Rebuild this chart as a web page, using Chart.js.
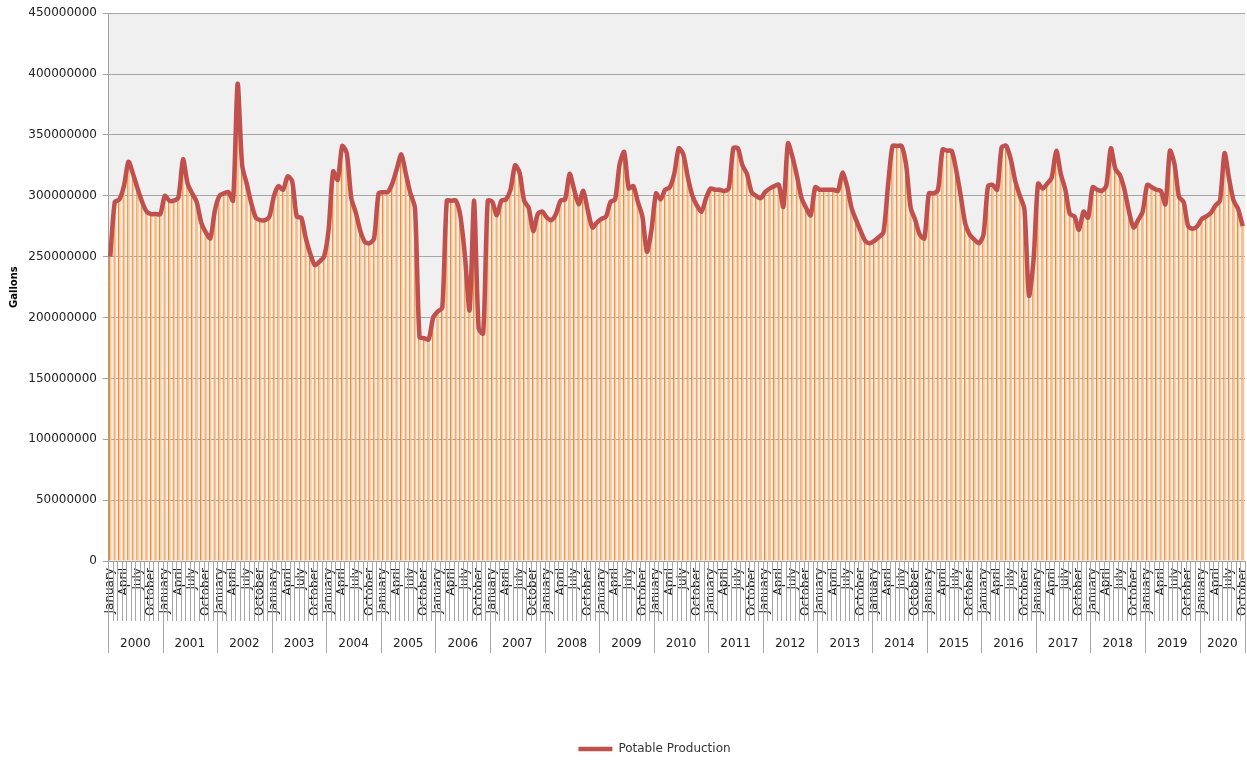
<!DOCTYPE html>
<html>
<head>
<meta charset="utf-8">
<script src="https://cdn.jsdelivr.net/npm/chart.js@4.4.1/dist/chart.umd.min.js"></script>
<style>
  html, body { margin: 0; padding: 0; background: #fff; }
  #wrap { width: 1247px; height: 762px; }
</style>
</head>
<body>
<div id="wrap"><canvas id="productionChart"></canvas></div>
<script>
const monthNames = ['January', 'February', 'March', 'April', 'May', 'June',
  'July', 'August', 'September', 'October', 'November', 'December'];
const years = [2000, 2001, 2002, 2003, 2004, 2005, 2006, 2007, 2008, 2009, 2010,
  2011, 2012, 2013, 2014, 2015, 2016, 2017, 2018, 2019, 2020];

// monthly potable production, millions of gallons
const p2000 = [250, 295, 297, 308, 328, 318, 306, 295, 287, 285, 285, 285];
const p2001 = [300, 296, 296, 299, 330, 310, 302, 295, 278, 270, 265, 288];
const p2002 = [300, 302, 303, 296, 392, 325, 310, 294, 282, 280, 280, 283];
const p2003 = [300, 308, 305, 316, 312, 283, 282, 265, 252, 243, 246, 250];
const p2004 = [272, 320, 313, 341, 335, 298, 286, 271, 262, 261, 265, 302];
const p2005 = [303, 303, 310, 322, 334, 318, 302, 290, 184, 183, 182, 200];
const p2006 = [205, 208, 296, 296, 296, 283, 250, 206, 296, 191, 187, 296];
const p2007 = [295, 284, 296, 297, 305, 325, 319, 296, 290, 271, 285, 287];
const p2008 = [282, 280, 285, 296, 297, 318, 305, 293, 304, 288, 274, 278];
const p2009 = [281, 283, 295, 297, 326, 336, 306, 308, 295, 283, 254, 272];
const p2010 = [302, 297, 305, 307, 318, 339, 334, 315, 300, 292, 287, 298];
const p2011 = [306, 305, 305, 304, 306, 339, 339, 325, 318, 303, 300, 298];
const p2012 = [303, 306, 308, 309, 291, 343, 332, 316, 298, 290, 284, 307];
const p2013 = [305, 305, 305, 305, 304, 319, 308, 290, 280, 271, 263, 261];
const p2014 = [263, 266, 270, 308, 341, 341, 341, 325, 290, 280, 268, 265];
const p2015 = [302, 302, 305, 338, 337, 337, 321, 300, 277, 268, 264, 261];
const p2016 = [268, 308, 309, 305, 340, 341, 330, 312, 300, 289, 218, 247];
const p2017 = [310, 306, 310, 315, 337, 318, 305, 285, 283, 272, 287, 282];
const p2018 = [307, 305, 304, 308, 339, 322, 317, 305, 287, 274, 280, 287];
const p2019 = [309, 307, 305, 304, 293, 337, 326, 299, 295, 275, 273, 275];
const p2020 = [281, 283, 286, 292, 296, 335, 314, 296, 289, 275];

const yMin = 0;
const yMax = 450000000;
const yStep = 50000000;

const productionMillions = [].concat(p2000, p2001, p2002, p2003, p2004, p2005, p2006,
  p2007, p2008, p2009, p2010, p2011, p2012, p2013, p2014, p2015, p2016, p2017,
  p2018, p2019, p2020);
const production = productionMillions.map(v => v * 1000000);
const labels = production.map((v, i) => monthNames[i % 12]);
const shownMonths = ['January', 'April', 'July', 'October'];

// grey plot area
const plotBackground = {
  id: 'plotBackground',
  beforeDraw(chart) {
    const { ctx, chartArea: a } = chart;
    ctx.save();
    ctx.fillStyle = '#f0f0f0';
    ctx.fillRect(a.left, a.top, a.right - a.left, a.bottom - a.top);
    ctx.restore();
  }
};

// excel puts the legend a little right of the canvas centre
const legendNudge = {
  id: 'legendNudge',
  afterLayout(chart) {
    const lg = chart.legend;
    if (!lg) return;
    lg.left += 32; lg.right += 32;
    lg.top += 3; lg.bottom += 3;
  }
};

// month separators and the year row under the month labels
const yearRows = {
  id: 'yearRows',
  afterDraw(chart) {
    const { ctx, chartArea: a } = chart;
    const x = chart.scales.x;
    const n = labels.length;
    const edge = i => i <= 0 ? a.left : i >= n ? a.right
      : (x.getPixelForValue(i - 1) + x.getPixelForValue(i)) / 2;
    ctx.save();
    ctx.strokeStyle = '#a6a6a6';
    ctx.lineWidth = 1;
    for (let i = 0; i <= n; i++) {
      const px = Math.round(edge(i)) + 0.5;
      const long = i % 12 === 0 || i === n;
      ctx.beginPath();
      ctx.moveTo(px, a.bottom);
      ctx.lineTo(px, a.bottom + (long ? 92 : 60));
      ctx.stroke();
    }
    ctx.fillStyle = '#222';
    ctx.font = '12px "DejaVu Sans"';
    ctx.textAlign = 'center';
    ctx.textBaseline = 'middle';
    years.forEach((yr, k) => {
      const l = edge(k * 12);
      const r = edge(Math.min((k + 1) * 12, n));
      ctx.fillText(String(yr), (l + r) / 2, a.bottom + 83);
    });
    ctx.restore();
  }
};

const ctx = document.getElementById('productionChart').getContext('2d');

const productionChart = new Chart(ctx, {
  data: {
    labels: labels,
    datasets: [{
      type: 'line',
      label: 'Potable Production',
      data: production,
      borderColor: '#c0504d',
      backgroundColor: '#c0504d',
      borderWidth: 4.5,
      tension: 0.25,
      pointRadius: 0,
      order: 0
    }, {
      type: 'bar',
      label: 'bars',
      data: production,
      backgroundColor: '#fbc597',
      borderColor: '#f7891f',
      borderWidth: { left: 1.2, right: 0, top: 0, bottom: 0 },
      borderSkipped: false,
      barPercentage: 0.6,
      categoryPercentage: 1,
      order: 1
    }]
  },
  options: {
    responsive: true,
    maintainAspectRatio: false,
    animation: false,
    layout: { padding: { top: 13, right: 2, left: 0, bottom: 0 } },
    plugins: {
      tooltip: { enabled: false },
      legend: {
        display: true,
        position: 'bottom',
        labels: {
          filter: item => item.datasetIndex === 0,
          usePointStyle: true,
          pointStyle: 'line',
          pointStyleWidth: 34,
          padding: 8,
          color: '#333',
          font: { family: 'DejaVu Sans', size: 12 }
        }
      }
    },
    scales: {
      x: {
        type: 'category',
        offset: true,
        grid: { display: false, drawTicks: false },
        border: { display: true, color: '#a0a0a0' },
        ticks: {
          autoSkip: false,
          minRotation: 90,
          maxRotation: 90,
          padding: 7,
          color: '#222',
          font: { family: 'DejaVu Sans', size: 12 },
          callback: function (value) {
            const name = this.getLabelForValue(value);
            return shownMonths.includes(name) ? name : '';
          }
        },
        afterFit: scale => {
          scale.height = 171;
          scale.paddingLeft = 0;
          scale.paddingRight = 0;
        }
      },
      y: {
        min: yMin,
        max: yMax,
        grid: { color: '#a6a6a6', tickLength: 5 },
        border: { display: true, color: '#a0a0a0' },
        ticks: {
          stepSize: yStep,
          padding: 6,
          color: '#222',
          font: { family: 'DejaVu Sans', size: 12 },
          callback: v => String(v)
        },
        title: {
          display: true,
          text: 'Gallons',
          color: '#000',
          font: { family: 'DejaVu Sans', size: 10, weight: 'bold' },
          padding: { top: 8, bottom: 0 }
        },
        afterFit: scale => { scale.width = 108; }
      }
    }
  },
  plugins: [plotBackground, legendNudge, yearRows]
});
</script>
</body>
</html>
